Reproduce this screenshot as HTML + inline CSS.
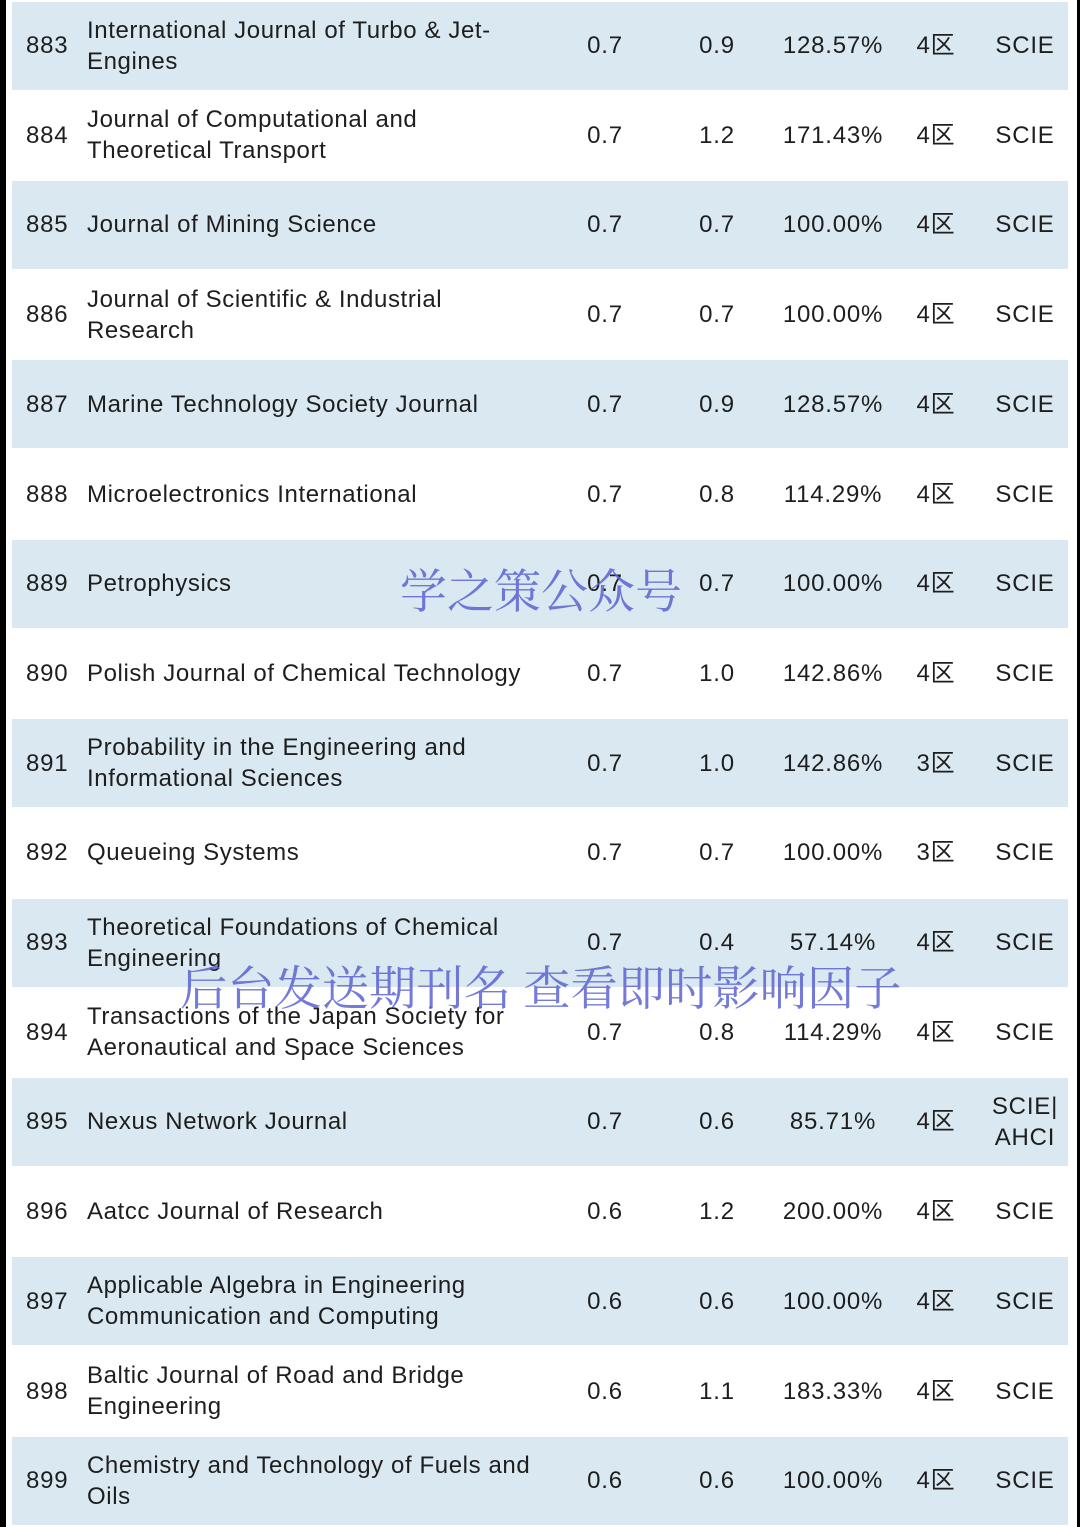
<!DOCTYPE html>
<html><head><meta charset="utf-8"><style>
html,body{margin:0;padding:0;background:#fff;}
body{width:1080px;height:1527px;position:relative;overflow:hidden;font-family:"Liberation Sans","Noto Sans CJK SC",sans-serif;color:#1e1e1e;}
.bl{position:absolute;left:0;top:0;width:6px;height:1527px;background:#000;}
.br{position:absolute;right:0;top:0;width:3px;height:1527px;background:#000;}
.row{position:absolute;left:12px;width:1056px;height:88px;}
.row.s{background:#d9e8f1;}
.c{position:absolute;top:0;height:88px;display:flex;align-items:center;font-size:24px;line-height:31px;letter-spacing:0.8px;}
.num{left:14px;}
.name{left:75px;width:480px;letter-spacing:0.6px;}
.v{justify-content:center;}
.wm{position:absolute;font-family:"Noto Serif CJK SC","WenQuanYi Zen Hei",serif;color:#5c63d2;opacity:.85;white-space:nowrap;}
</style></head><body>
<div class="bl"></div>
<div class="br"></div>
<div id="tbl"></div>
<div class="wm" style="left:400px;top:555px;font-size:47px;">学之策公众号</div>
<div class="wm" style="left:180px;top:951px;font-size:47.3px;">后台发送期刊名 查看即时影响因子</div>
<script>
const nums=[883,884,885,886,887,888,889,890,891,892,893,894,895,896,897,898,899];
const names=["International Journal of Turbo &amp; Jet-<br>Engines","Journal of Computational and<br>Theoretical Transport","Journal of Mining Science","Journal of Scientific &amp; Industrial<br>Research","Marine Technology Society Journal","Microelectronics International","Petrophysics","Polish Journal of Chemical Technology","Probability in the Engineering and<br>Informational Sciences","Queueing Systems","Theoretical Foundations of Chemical<br>Engineering","Transactions of the Japan Society for<br>Aeronautical and Space Sciences","Nexus Network Journal","Aatcc Journal of Research","Applicable Algebra in Engineering<br>Communication and Computing","Baltic Journal of Road and Bridge<br>Engineering","Chemistry and Technology of Fuels and<br>Oils"];
const if1=["0.7","0.7","0.7","0.7","0.7","0.7","0.7","0.7","0.7","0.7","0.7","0.7","0.7","0.6","0.6","0.6","0.6"];
const if2=["0.9","1.2","0.7","0.7","0.9","0.8","0.7","1.0","1.0","0.7","0.4","0.8","0.6","1.2","0.6","1.1","0.6"];
const pct=["128.57%","171.43%","100.00%","100.00%","128.57%","114.29%","100.00%","142.86%","142.86%","100.00%","57.14%","114.29%","85.71%","200.00%","100.00%","183.33%","100.00%"];
const zone=["4区","4区","4区","4区","4区","4区","4区","4区","3区","3区","4区","4区","4区","4区","4区","4区","4区"];
const idx=["SCIE","SCIE","SCIE","SCIE","SCIE","SCIE","SCIE","SCIE","SCIE","SCIE","SCIE","SCIE","SCIE|<br>AHCI","SCIE","SCIE","SCIE","SCIE"];
const tbl=document.getElementById('tbl');
function cell(r,cls,html,left,w){const d=document.createElement('div');d.className='c '+cls;d.innerHTML=html;if(left!==undefined){d.style.left=left+'px';d.style.width=w+'px';}r.appendChild(d);return d;}
nums.forEach((n,i)=>{
 const r=document.createElement('div');
 r.className='row'+(i%2===0?' s':'');
 r.style.top=(1.5+i*89.7)+'px';
 
 
 let c;
 c=cell(r,'num',n);
 c=cell(r,'name',names[i]);
 c=cell(r,'v',if1[i],553,80);
 c=cell(r,'v',if2[i],665,80);
 c=cell(r,'v',pct[i],761,120);
 c=cell(r,'v',zone[i],884,80);
 c=cell(r,'v',idx[i],968,90);c.style.textAlign='center';
 tbl.appendChild(r);
});
</script>
</body></html>
